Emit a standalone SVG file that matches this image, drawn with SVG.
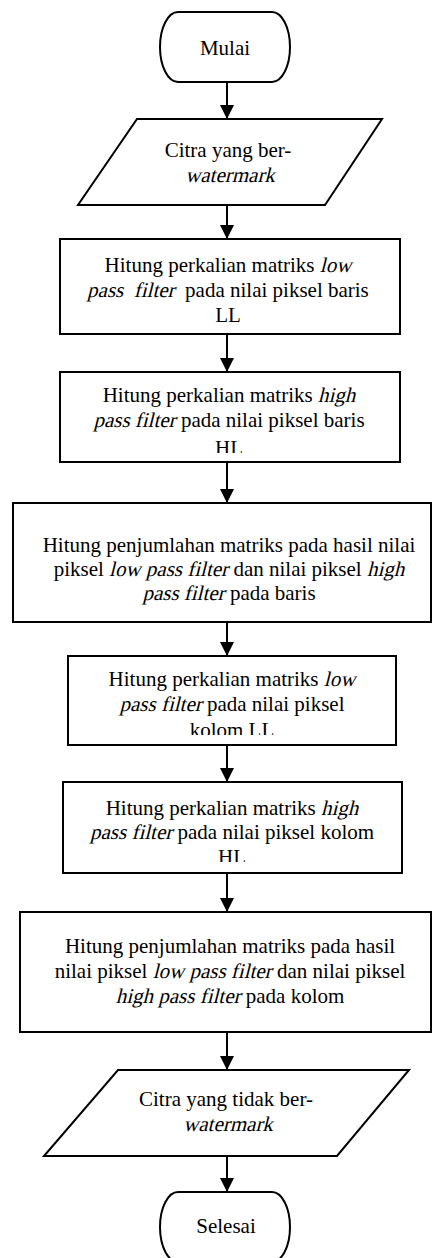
<svg xmlns="http://www.w3.org/2000/svg" width="433" height="1258" viewBox="0 0 433 1258">
  <style>
    .shape { fill: #fff; stroke: #000; stroke-width: 2; }
    text { font-family: "Liberation Serif", "Times New Roman", serif; font-size: 21px; fill: #000; white-space: pre; }
    .c { text-anchor: middle; }
    .conn { fill: none; stroke: #000; stroke-width: 2; marker-end: url(#arrow); }
  </style>
  <defs>
    <marker id="arrow" markerUnits="userSpaceOnUse" markerWidth="14" markerHeight="14" viewBox="0 0 14 14" refX="14" refY="7" orient="auto">
      <path d="M0,0 L14,7 L0,14 Z" fill="#000"/>
    </marker>
    <!-- last text lines are cut by their boxes -->
    <clipPath id="clip-b2"><rect x="60" y="372" width="340" height="81"/></clipPath>
    <clipPath id="clip-b4"><rect x="68" y="656" width="328" height="79"/></clipPath>
    <clipPath id="clip-b5"><rect x="63" y="782" width="339" height="80"/></clipPath>
  </defs>

  <rect width="433" height="1258" fill="#fff"/>

  <g id="connectors">
    <path class="conn" d="M227,82 V119"/>
    <path class="conn" d="M227,205 V239"/>
    <path class="conn" d="M227,334 V372"/>
    <path class="conn" d="M227,462 V503"/>
    <path class="conn" d="M227,622 V656"/>
    <path class="conn" d="M227,745 V782"/>
    <path class="conn" d="M227,873 V912"/>
    <path class="conn" d="M227,1032 V1070"/>
    <path class="conn" d="M227,1156 V1192"/>
  </g>

  <!-- italic words: regular face slanted with skewX -->
  <g id="start">
    <path class="shape" d="M178,12 H272 A18,35 0 0 1 272,82 H178 A18,35 0 0 1 178,12 Z"/>
    <text class="c" x="225" y="55">Mulai</text>
  </g>

  <g id="input">
    <polygon class="shape" points="137,119 382,119 325,205 78,205"/>
    <text class="c" x="228" y="157">Citra yang ber-</text>
    <text class="c" transform="translate(230,182) skewX(-14)">watermark</text>
  </g>

  <g id="row-low">
    <rect class="shape" x="60" y="239" width="340" height="95"/>
    <text x="104.6" y="272">Hitung perkalian matriks</text>
    <text transform="translate(319.8,272) skewX(-14)">low</text>
    <text transform="translate(87.1,297) skewX(-14)">pass  filter</text>
    <text x="185.1" y="297">pada nilai piksel baris</text>
    <text class="c" x="228" y="322">LL</text>
  </g>

  <g id="row-high">
    <rect class="shape" x="60" y="372" width="340" height="90"/>
    <text x="102.7" y="402">Hitung perkalian matriks</text>
    <text transform="translate(317.9,402) skewX(-14)">high</text>
    <text transform="translate(93.4,427) skewX(-14)">pass filter</text>
    <text x="180.9" y="427">pada nilai piksel baris</text>
    <text class="c" x="229" y="455" clip-path="url(#clip-b2)">HL</text>
  </g>

  <g id="row-sum">
    <rect class="shape" x="13" y="503" width="418" height="119"/>
    <text class="c" x="229" y="552">Hitung penjumlahan matriks pada hasil nilai</text>
    <text x="53.7" y="576">piksel</text>
    <text transform="translate(109.1,576) skewX(-14)">low pass filter</text>
    <text x="233.4" y="576">dan nilai piksel</text>
    <text transform="translate(366.9,576) skewX(-14)">high</text>
    <text transform="translate(142.4,600) skewX(-14)">pass filter</text>
    <text x="229.9" y="600">pada baris</text>
  </g>

  <g id="col-low">
    <rect class="shape" x="68" y="656" width="328" height="89"/>
    <text x="108.6" y="686">Hitung perkalian matriks</text>
    <text transform="translate(323.8,686) skewX(-14)">low</text>
    <text transform="translate(119.5,711) skewX(-14)">pass filter</text>
    <text x="206.9" y="711">pada nilai piksel</text>
    <text class="c" x="232" y="737" clip-path="url(#clip-b4)">kolom LL</text>
  </g>

  <g id="col-high">
    <rect class="shape" x="63" y="782" width="339" height="91"/>
    <text x="105.7" y="815">Hitung perkalian matriks</text>
    <text transform="translate(320.9,815) skewX(-14)">high</text>
    <text transform="translate(90,839) skewX(-14)">pass filter</text>
    <text x="177.5" y="839">pada nilai piksel kolom</text>
    <text class="c" x="232" y="864" clip-path="url(#clip-b5)">HL</text>
  </g>

  <g id="col-sum">
    <rect class="shape" x="20" y="912" width="411" height="120"/>
    <text class="c" x="230" y="953">Hitung penjumlahan matriks pada hasil</text>
    <text x="54.7" y="978">nilai piksel</text>
    <text transform="translate(152.7,978) skewX(-14)">low pass filter</text>
    <text x="277" y="978">dan nilai piksel</text>
    <text transform="translate(115.7,1003) skewX(-14)">high pass filter</text>
    <text x="245.8" y="1003">pada kolom</text>
  </g>

  <g id="output">
    <polygon class="shape" points="118,1070 409,1070 337,1156 44,1156"/>
    <text class="c" x="226" y="1106">Citra yang tidak ber-</text>
    <text class="c" transform="translate(228,1131) skewX(-14)">watermark</text>
  </g>

  <g id="end">
    <path class="shape" d="M178,1192 H272 A18,35 0 0 1 272,1262 H178 A18,35 0 0 1 178,1192 Z"/>
    <text class="c" x="226" y="1233">Selesai</text>
  </g>
</svg>
